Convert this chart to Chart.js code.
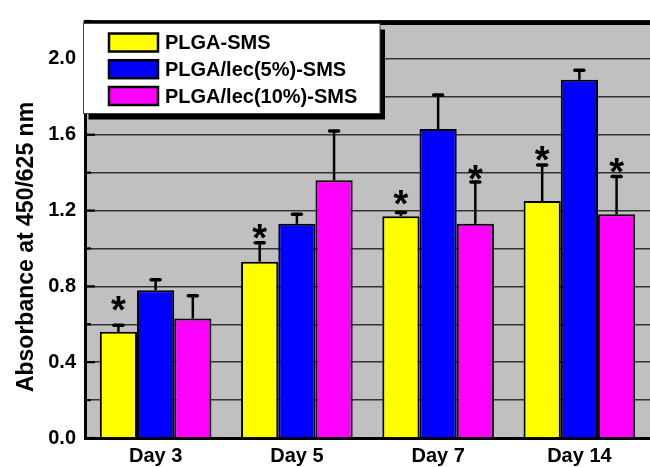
<!DOCTYPE html>
<html>
<head>
<meta charset="utf-8">
<script src="https://cdn.jsdelivr.net/npm/chart.js@4/dist/chart.umd.min.js"></script>
<style>
  html, body { margin: 0; padding: 0; background: #ffffff; overflow: hidden; }
  #wrap { width: 650px; height: 467px; }
</style>
</head>
<body>
<div id="wrap"><canvas id="c" width="650" height="467"></canvas></div>
<script>
// ---- data ----
const categories = ['Day 3', 'Day 5', 'Day 7', 'Day 14'];
const seriesNames = ['PLGA-SMS', 'PLGA/lec(5%)-SMS', 'PLGA/lec(10%)-SMS'];

const plgaSms    = [0.56, 0.93, 1.17, 1.25];
const plgaLec5   = [0.78, 1.13, 1.63, 1.89];
const plgaLec10  = [0.63, 1.36, 1.13, 1.18];

// upper error (SD)
const sdPlgaSms   = [0.035, 0.10, 0.02, 0.19];
const sdPlgaLec5  = [0.055, 0.05, 0.18, 0.05];
const sdPlgaLec10 = [0.12, 0.26, 0.22, 0.20];

// significance marks: absorbance level of each '*' (null = not significant)
const starPlgaSms   = [0.71, 1.09, 1.27, 1.50];
const starPlgaLec5  = [null, null, null, null];
const starPlgaLec10 = [null, null, 1.40, 1.44];

const yTickLabels = ['0.0', '0.4', '0.8', '1.2', '1.6', '2.0'];
const yTitle = 'Absorbance at 450/625 nm';

// ---- styling ----
const FONT = 'Liberation Sans, Arial, sans-serif';
const fillColors = ['#ffff00', '#0000ff', '#ff00ff'];

function makeSet(i, values, errs, stars) {
  return {
    label: seriesNames[i],
    data: values,
    errors: errs,
    stars: stars,
    backgroundColor: fillColors[i],
    borderColor: '#000000',
    borderWidth: 2,
    barPercentage: 1.0,
    categoryPercentage: 0.79
  };
}

const framePlugin = {
  id: 'frame',
  beforeDraw(chart) {
    const { ctx, chartArea: a } = chart;
    ctx.save();
    ctx.fillStyle = '#c0c0c0';
    ctx.fillRect(a.left, a.top, a.right - a.left, a.bottom - a.top);
    ctx.restore();
  },
  beforeDatasetsDraw(chart) {
    // short tick marks pointing into the plot from the left axis
    const { ctx, chartArea: a, scales: { y } } = chart;
    ctx.save();
    ctx.strokeStyle = '#000000';
    ctx.lineWidth = 2.2;
    y.ticks.forEach(t => {
      const py = y.getPixelForValue(t.value);
      const major = yTickLabels.some(l => Math.abs(parseFloat(l) - t.value) < 1e-6);
      ctx.beginPath();
      ctx.moveTo(a.left, py);
      ctx.lineTo(a.left + (major ? 10 : 6), py);
      ctx.stroke();
    });
    ctx.restore();
  },
  afterDatasetsDraw(chart) {
    const { ctx, scales: { y } } = chart;
    ctx.save();
    chart.data.datasets.forEach((ds, i) => {
      const meta = chart.getDatasetMeta(i);
      meta.data.forEach((bar, j) => {
        const v = ds.data[j];
        const e = ds.errors[j];
        const x = bar.x;
        const yTop = y.getPixelForValue(v);
        const yErr = y.getPixelForValue(v + e);
        ctx.strokeStyle = '#000000';
        ctx.lineCap = 'butt';
        ctx.lineWidth = 2.5;
        ctx.beginPath();
        ctx.moveTo(x, yTop);
        ctx.lineTo(x, yErr);
        ctx.stroke();
        ctx.lineCap = 'round';
        ctx.lineWidth = 3.5;
        ctx.beginPath();
        ctx.moveTo(x - 4.5, yErr);
        ctx.lineTo(x + 4.5, yErr);
        ctx.stroke();

        const s = ds.stars[j];
        if (s !== null && s !== undefined) {
          ctx.font = 'bold 38px ' + FONT;
          ctx.fillStyle = '#000000';
          ctx.textAlign = 'center';
          ctx.textBaseline = 'alphabetic';
          const m = ctx.measureText('*');
          const cy = y.getPixelForValue(s);
          const base = cy + (m.actualBoundingBoxAscent - m.actualBoundingBoxDescent) / 2;
          ctx.fillText('*', x, base);
        }
      });
    });
    ctx.restore();
  },
  afterDraw(chart) {
    const { ctx, chartArea: a } = chart;
    ctx.save();
    // heavy top frame line
    ctx.fillStyle = '#000000';
    ctx.fillRect(a.left - 1.5, a.top - 0.5, a.right - a.left + 2, 4.5);

    // axis title
    ctx.save();
    ctx.translate(33, 247);
    ctx.rotate(-Math.PI / 2);
    ctx.font = 'bold 23px ' + FONT;
    ctx.fillStyle = '#000000';
    ctx.textAlign = 'center';
    ctx.textBaseline = 'alphabetic';
    ctx.fillText(yTitle, 0, 0);
    ctx.restore();

    // legend box with drop shadow
    const bx = 83.5, by = 23.5, bw = 296.5, bh = 90;
    ctx.fillStyle = '#000000';
    ctx.fillRect(bx + 5, by + 6, bw, bh);
    ctx.fillStyle = '#ffffff';
    ctx.fillRect(bx, by, bw, bh);
    ctx.strokeStyle = '#444444';
    ctx.lineWidth = 1;
    ctx.strokeRect(bx, by, bw, bh);

    const rowY = [42.5, 69.2, 96];
    chart.data.datasets.forEach((ds, i) => {
      const cy = rowY[i];
      ctx.fillStyle = ds.backgroundColor;
      ctx.fillRect(109, cy - 9, 49, 18);
      ctx.strokeStyle = '#000000';
      ctx.lineWidth = 2.5;
      ctx.strokeRect(109, cy - 9, 49, 18);
      ctx.fillStyle = '#000000';
      ctx.font = 'bold 20px ' + FONT;
      ctx.textAlign = 'left';
      ctx.textBaseline = 'middle';
      ctx.fillText(ds.label, 165, cy + 1);
    });
    ctx.restore();
  }
};

new Chart(document.getElementById('c'), {
  type: 'bar',
  data: {
    labels: categories,
    datasets: [
      makeSet(0, plgaSms, sdPlgaSms, starPlgaSms),
      makeSet(1, plgaLec5, sdPlgaLec5, starPlgaLec5),
      makeSet(2, plgaLec10, sdPlgaLec10, starPlgaLec10)
    ]
  },
  options: {
    responsive: false,
    animation: false,
    devicePixelRatio: 1,
    layout: { padding: { top: 12.7, right: -4.6, bottom: 0, left: 0 } },
    plugins: {
      legend: { display: false },
      tooltip: { enabled: false }
    },
    scales: {
      x: {
        grid: { display: false, drawTicks: false },
        border: { display: true, color: '#000000', width: 3 },
        ticks: {
          color: '#000000',
          font: { family: FONT, weight: 'bold', size: 20 },
          padding: 6,
          maxRotation: 0
        },
        afterFit(s) { s.height = 29; }
      },
      y: {
        min: 0,
        max: 2.2,
        grid: { color: '#333333', lineWidth: 1.5, drawTicks: false },
        border: { display: true, color: '#000000', width: 3 },
        ticks: {
          stepSize: 0.2,
          color: '#000000',
          padding: 9,
          font: { family: FONT, weight: 'bold', size: 20 },
          callback(v) {
            const hit = yTickLabels.find(l => Math.abs(parseFloat(l) - v) < 1e-6);
            return hit === undefined ? '' : hit;
          }
        },
        afterFit(s) { s.width = 85; }
      }
    }
  },
  plugins: [framePlugin]
});
</script>
</body>
</html>
